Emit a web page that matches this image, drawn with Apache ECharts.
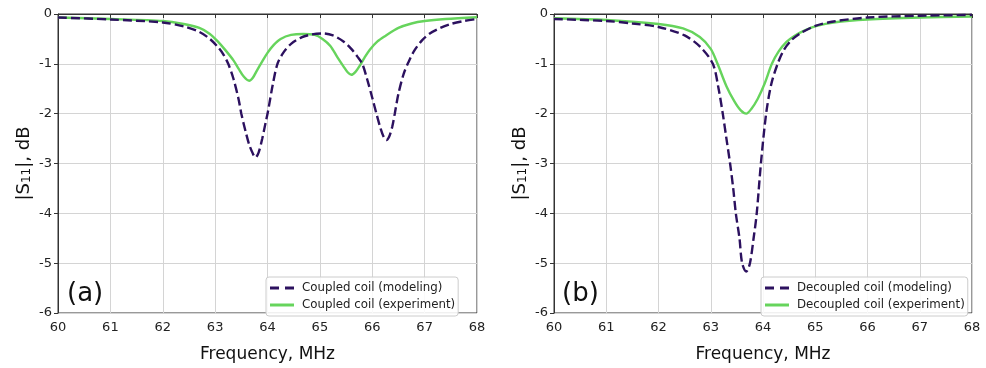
<!DOCTYPE html>
<html><head><meta charset="utf-8">
<script src="https://cdn.jsdelivr.net/npm/echarts@6/dist/echarts.min.js"></script>
<style>html,body{margin:0;padding:0;background:#fff}#c{width:986px;height:368px}</style>
</head><body><div id="c"></div><script>
// ---- data ----
const aModelFreq = [60,61,62,62.4,62.7,62.9,63.05,63.15,63.25,63.35,63.45,63.5,63.58,63.65,63.72,63.77,63.83,63.9,63.96,64.01,64.1,64.19,64.3,64.45,64.65,64.85,65.05,65.25,65.45,65.6,65.72,65.81,65.9,66.0,66.08,66.16,66.22,66.27,66.32,66.38,66.43,66.5,66.6,66.69,66.8,66.95,67.1,67.3,67.5,67.75,68];
const aModelS11 = [-0.07,-0.11,-0.17,-0.25,-0.36,-0.5,-0.66,-0.8,-1.0,-1.3,-1.72,-2.0,-2.35,-2.62,-2.8,-2.88,-2.78,-2.5,-2.2,-1.95,-1.42,-1.0,-0.78,-0.6,-0.47,-0.41,-0.39,-0.43,-0.55,-0.7,-0.86,-1.0,-1.3,-1.68,-2.0,-2.3,-2.47,-2.53,-2.47,-2.27,-2.0,-1.6,-1.2,-0.97,-0.74,-0.53,-0.39,-0.28,-0.2,-0.14,-0.1];
const aExpFreq = [60,61,62,62.4,62.7,62.9,63.05,63.2,63.35,63.45,63.55,63.65,63.72,63.8,63.9,64.0,64.12,64.25,64.45,64.68,64.9,65.05,65.2,65.33,65.45,65.53,65.6,65.68,65.76,65.85,65.95,66.1,66.25,66.5,66.75,67.0,67.4,68];
const aExpS11 = [-0.07,-0.1,-0.14,-0.2,-0.28,-0.4,-0.55,-0.73,-0.93,-1.1,-1.26,-1.34,-1.28,-1.13,-0.95,-0.78,-0.62,-0.5,-0.42,-0.4,-0.42,-0.5,-0.64,-0.86,-1.05,-1.17,-1.22,-1.16,-1.04,-0.88,-0.72,-0.55,-0.44,-0.28,-0.19,-0.14,-0.1,-0.065];
const bModelFreq = [60,61,61.5,62,62.5,62.8,63.04,63.15,63.23,63.3,63.37,63.43,63.48,63.55,63.6,63.68,63.75,63.82,63.88,63.96,64.06,64.16,64.28,64.4,64.55,64.71,65.0,65.35,66,67,68];
const bModelS11 = [-0.1,-0.14,-0.19,-0.26,-0.43,-0.66,-1.0,-1.5,-2.0,-2.5,-3.0,-3.5,-4.0,-4.5,-5.0,-5.17,-5.0,-4.5,-4.0,-3.0,-2.0,-1.4,-1.0,-0.72,-0.52,-0.39,-0.24,-0.15,-0.07,-0.035,-0.02];
const bExpFreq = [60,61,62,62.47,62.79,63.0,63.13,63.3,63.45,63.57,63.68,63.78,63.9,64.03,64.17,64.3,64.45,64.6,64.8,65.03,65.35,66,67,68];
const bExpS11 = [-0.085,-0.12,-0.2,-0.29,-0.46,-0.7,-1.0,-1.45,-1.75,-1.93,-2.0,-1.9,-1.7,-1.4,-1.0,-0.75,-0.56,-0.44,-0.33,-0.24,-0.17,-0.11,-0.07,-0.05];
const seriesNames = ['Coupled coil (modeling)','Coupled coil (experiment)','Decoupled coil (modeling)','Decoupled coil (experiment)'];
const panelLabels = ['(a)','(b)'];
const xTitle = 'Frequency, MHz';

const zip = (f, v) => f.map((x, i) => [x, v[i]]);
const FONT = 'DejaVu Sans';
const purple = '#2c115f', green = '#66d45c';
const dashIcon = 'path://M0,0h9v3h-9z M15,0h9v3h-9z';
const solidIcon = 'path://M0,0h24v3h-24z';
const grids = [
  {left: 58, right: 509, top: 14, bottom: 47},
  {left: 554, right: 14, top: 14, bottom: 47}
];
function xAx(i){return {type:'value', gridIndex:i, min:60, max:68, interval:1,
  name:xTitle, nameLocation:'middle', nameGap:33, nameTextStyle:{fontFamily:FONT,fontSize:17,color:'#111'},
  axisLine:{show:true,lineStyle:{color:'#333',width:1}}, axisTick:{show:true,inside:false,length:4,lineStyle:{color:'#333'}},
  axisLabel:{fontFamily:FONT,fontSize:13,color:'#222',margin:8},
  splitLine:{show:true,lineStyle:{color:'#d4d4d4',width:1}}};}
function yAx(i){return {type:'value', gridIndex:i, min:-6, max:0, interval:1,
  name:'|S{s|11}|, dB', nameLocation:'middle', nameGap:25, nameRotate:90,
  nameTextStyle:{fontFamily:FONT,fontSize:18,color:'#111',rich:{s:{fontFamily:FONT,fontSize:12,color:'#111',verticalAlign:'bottom',padding:[6,0,0,0]}}},
  axisLine:{show:true,lineStyle:{color:'#333',width:1}}, axisTick:{show:true,inside:false,length:4,lineStyle:{color:'#333'}},
  axisLabel:{fontFamily:FONT,fontSize:13,color:'#222',margin:6},
  splitLine:{show:true,lineStyle:{color:'#d4d4d4',width:1}}};}
function ser(name, i, data, dashed){return {name, type:'line', xAxisIndex:i, yAxisIndex:i, data, symbol:'none', showSymbol:false,
  smooth:0.3, z: dashed?3:2,
  lineStyle:{color:dashed?purple:green, width:2.4, type:dashed?[9,4]:'solid'}, itemStyle:{color:dashed?purple:green}};}
const legendBase = {orient:'vertical', itemWidth:24, itemHeight:3, itemGap:5,
  textStyle:{fontFamily:FONT,fontSize:11.8,color:'#222',padding:[0,0,0,3]}, borderColor:'#ccc', borderWidth:1, borderRadius:3,
  backgroundColor:'rgba(255,255,255,0.85)', padding:[5,3,5,4]};
const chart = echarts.init(document.getElementById('c'), null, {renderer:'canvas'});
chart.setOption({
  animation:false,
  grid: grids.map(g => Object.assign({show:true, borderColor:'#333', borderWidth:1, backgroundColor:'#fff'}, g)),
  xAxis:[xAx(0), xAx(1)],
  yAxis:[yAx(0), yAx(1)],
  legend:[
    Object.assign({}, legendBase, {data:[{name:seriesNames[0],icon:dashIcon},{name:seriesNames[1],icon:solidIcon}], left:266, top:277}),
    Object.assign({}, legendBase, {data:[{name:seriesNames[2],icon:dashIcon},{name:seriesNames[3],icon:solidIcon}], left:761, top:277})
  ],
  graphic:[
    {type:'text', left:67, top:281, style:{text:panelLabels[0], fontFamily:FONT, fontSize:26, fill:'#111'}},
    {type:'text', left:562, top:281, style:{text:panelLabels[1], fontFamily:FONT, fontSize:26, fill:'#111'}}
  ],
  series:[
    ser(seriesNames[0], 0, zip(aModelFreq, aModelS11), true),
    ser(seriesNames[1], 0, zip(aExpFreq, aExpS11), false),
    ser(seriesNames[2], 1, zip(bModelFreq, bModelS11), true),
    ser(seriesNames[3], 1, zip(bExpFreq, bExpS11), false)
  ]
});
</script></body></html>
